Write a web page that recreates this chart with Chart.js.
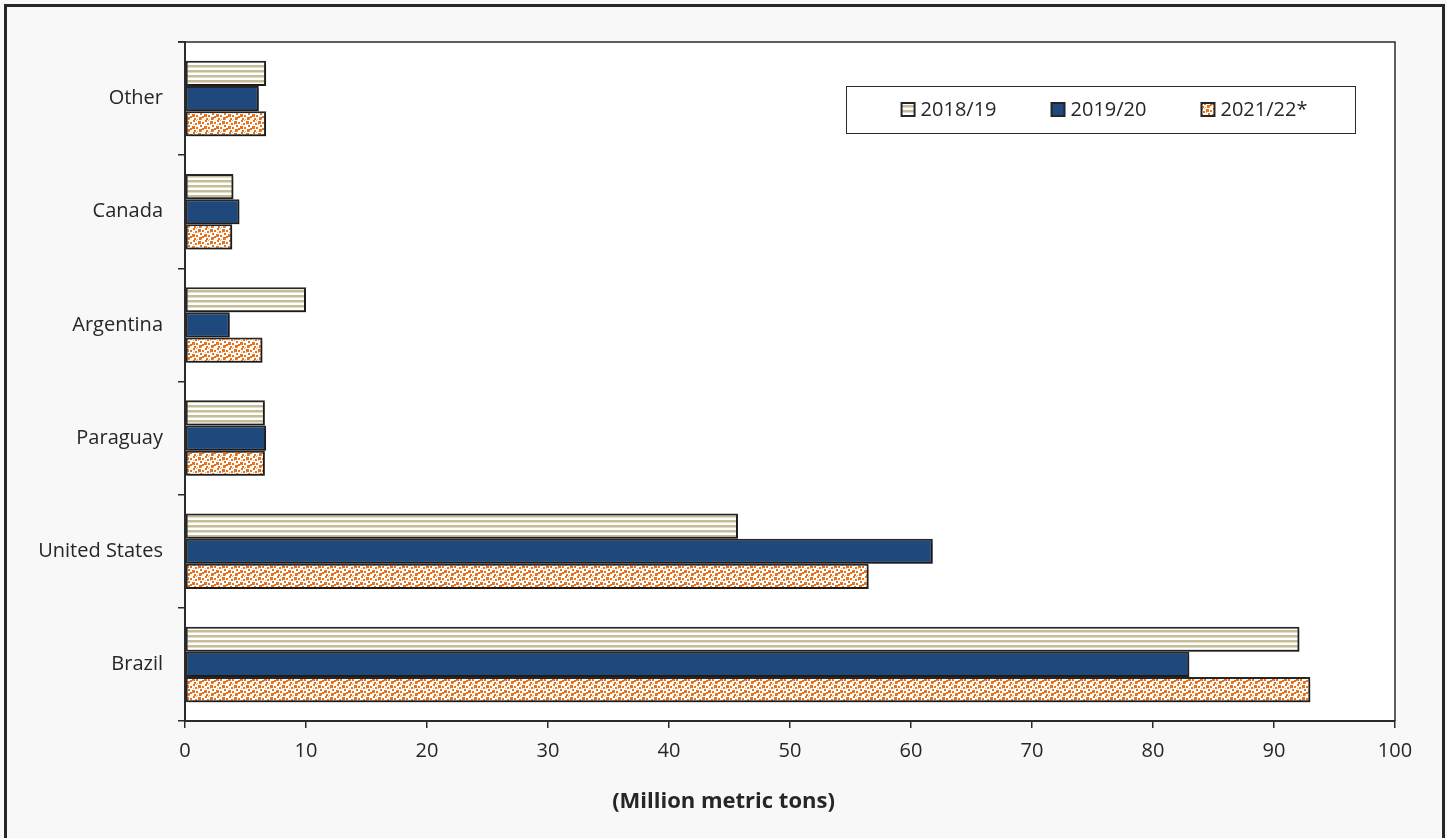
<!DOCTYPE html>
<html>
<head>
<meta charset="utf-8">
<script src="https://cdn.jsdelivr.net/npm/chart.js@4"></script>
<style>
  html, body { margin: 0; padding: 0; background: #f8f8f8; overflow: hidden; }
  #frame { position: absolute; left: 4px; top: 4px; width: 1441px; height: 900px;
           border: 3px solid #262626; box-sizing: border-box; border-bottom: none; }
  #c { position: absolute; left: 0; top: 0; }
</style>
</head>
<body>
<div id="frame"></div>
<canvas id="c" width="1447" height="838"></canvas>
<script>
// Soybean production by country, million metric tons
const categories = ['Other', 'Canada', 'Argentina', 'Paraguay', 'United States', 'Brazil'];
const seriesLabels = ['2018/19', '2019/20', '2021/22*'];
const v2018 = [6.7, 4.0, 10.0, 6.6, 45.7, 92.1];
const v2019 = [6.1, 4.5, 3.7, 6.7, 61.8, 83.0];
const v2021 = [6.7, 3.9, 6.4, 6.6, 56.5, 93.0];
const xTicks = [0, 10, 20, 30, 40, 50, 60, 70, 80, 90, 100];
const axisTitle = '(Million metric tons)';

const FONT = "'Open Sans', 'DejaVu Sans', sans-serif";

// Horizontal tan stripes
function stripePattern() {
  const t = document.createElement('canvas');
  t.width = 4; t.height = 5;
  const g = t.getContext('2d');
  g.fillStyle = '#ffffff'; g.fillRect(0, 0, 4, 5);
  g.fillStyle = '#c4bd98'; g.fillRect(0, 0, 4, 2);
  g.fillStyle = '#e2ddc8'; g.fillRect(0, 2, 4, 1);
  return g.createPattern(t, 'repeat');
}

// Scattered orange squares on white
function dotPattern() {
  const t = document.createElement('canvas');
  t.width = 12; t.height = 12;
  const g = t.getContext('2d');
  g.fillStyle = '#ffffff'; g.fillRect(0, 0, 12, 12);
  g.fillStyle = '#e8711c';
  [[1,0,2],[6,1,3],[10,2,2],[3,3,2],[8,5,2],[0,6,3],[4,7,2],[10,8,2],[7,9,3],[2,10,2]]
    .forEach(([x, y, s]) => g.fillRect(x, y, s, s));
  g.fillStyle = '#f3a66e';
  [[4,0,1],[9,11,1],[1,4,1],[6,4,1],[5,11,1]].forEach(([x, y, s]) => g.fillRect(x, y, s, s));
  return g.createPattern(t, 'repeat');
}

const fills = [stripePattern(), '#1f497d', dotPattern()];
const values = [v2018, v2019, v2021];

// White plot panel with a thin frame on top and right
const plotPanel = {
  id: 'plotPanel',
  beforeDraw(chart) {
    const { ctx, chartArea: a } = chart;
    ctx.save();
    ctx.fillStyle = '#ffffff';
    ctx.fillRect(a.left, a.top, a.right - a.left, a.bottom - a.top);
    ctx.restore();
  },
  afterDraw(chart) {
    const { ctx, chartArea: a } = chart;
    ctx.save();
    ctx.strokeStyle = '#2b2b2b';
    ctx.lineWidth = 1.5;
    ctx.beginPath();
    ctx.moveTo(a.left - 7, a.top);
    ctx.lineTo(a.right, a.top);
    ctx.lineTo(a.right, a.bottom);
    ctx.stroke();
    ctx.restore();
  }
};

// Soft drop shadow under the bars
const barShadow = {
  id: 'barShadow',
  beforeDatasetsDraw(chart) {
    const ctx = chart.ctx;
    ctx.save();
    ctx.shadowColor = 'rgba(0,0,0,0.35)';
    ctx.shadowOffsetX = 2;
    ctx.shadowOffsetY = 2;
    ctx.shadowBlur = 2;
  },
  afterDatasetsDraw(chart) {
    chart.ctx.restore();
  }
};

// Axis title, centred across the whole figure
const bottomTitle = {
  id: 'bottomTitle',
  afterDraw(chart) {
    const ctx = chart.ctx;
    ctx.save();
    ctx.font = 'bold 22px ' + FONT;
    ctx.fillStyle = '#262626';
    ctx.textAlign = 'center';
    ctx.textBaseline = 'middle';
    ctx.fillText(axisTitle, chart.width / 2, 802);
    ctx.restore();
  }
};

// Boxed legend inside the plot area
const boxedLegend = {
  id: 'boxedLegend',
  afterDraw(chart) {
    const { ctx, chartArea: a } = chart;
    const box = { x: a.right - 549, y: a.top + 44, w: 509, h: 47 };
    ctx.save();
    ctx.fillStyle = '#ffffff';
    ctx.fillRect(box.x, box.y, box.w, box.h);
    ctx.strokeStyle = '#2b2b2b';
    ctx.lineWidth = 1;
    ctx.strokeRect(box.x + 0.5, box.y + 0.5, box.w, box.h);
    ctx.font = '20px ' + FONT;
    ctx.textBaseline = 'middle';
    const sw = 13, gapText = 6, gapItem = 55;
    const ds = chart.data.datasets;
    const widths = ds.map(d => ctx.measureText(d.label).width);
    const total = widths.reduce((s, w) => s + sw + gapText + w, 0) + gapItem * (ds.length - 1);
    let x = box.x + (box.w - total) / 2 + 4;
    const cy = box.y + box.h / 2;
    ds.forEach((d, i) => {
      ctx.fillStyle = d.backgroundColor;
      ctx.fillRect(x, cy - sw / 2, sw, sw);
      ctx.strokeStyle = '#262626';
      ctx.lineWidth = 2;
      ctx.strokeRect(x, cy - sw / 2, sw, sw);
      ctx.fillStyle = '#262626';
      ctx.fillText(d.label, x + sw + gapText, cy + 1);
      x += sw + gapText + widths[i] + gapItem;
    });
    ctx.restore();
  }
};

new Chart(document.getElementById('c'), {
  type: 'bar',
  data: {
    labels: categories,
    datasets: values.map((v, i) => ({
      label: seriesLabels[i],
      data: v,
      backgroundColor: fills[i],
      borderColor: '#262626',
      borderWidth: 2,
      borderSkipped: false,
      categoryPercentage: 3 / 4.5,
      barPercentage: 1
    }))
  },
  options: {
    indexAxis: 'y',
    responsive: false,
    animation: false,
    devicePixelRatio: 1,
    layout: { padding: { top: 42, right: 52, left: 0, bottom: 0 } },
    plugins: {
      legend: { display: false },
      tooltip: { enabled: false }
    },
    scales: {
      x: {
        min: 0,
        max: 100,
        afterBuildTicks(scale) { scale.ticks = xTicks.map(v => ({ value: v })); },
        afterFit(scale) { scale.height = 117; },
        grid: { drawOnChartArea: false, tickLength: 7, color: '#2b2b2b', lineWidth: 1.5 },
        border: { color: '#2b2b2b', width: 2 },
        ticks: { color: '#262626', font: { family: FONT, size: 20 }, padding: 11, maxRotation: 0 }
      },
      y: {
        afterFit(scale) { scale.width = 185; },
        grid: { drawOnChartArea: false, offset: true, tickLength: 7, color: '#2b2b2b', lineWidth: 1.5 },
        border: { color: '#2b2b2b', width: 2 },
        ticks: { color: '#262626', font: { family: FONT, size: 20 }, padding: 15 }
      }
    }
  },
  plugins: [plotPanel, barShadow, bottomTitle, boxedLegend]
});
</script>
</body>
</html>
